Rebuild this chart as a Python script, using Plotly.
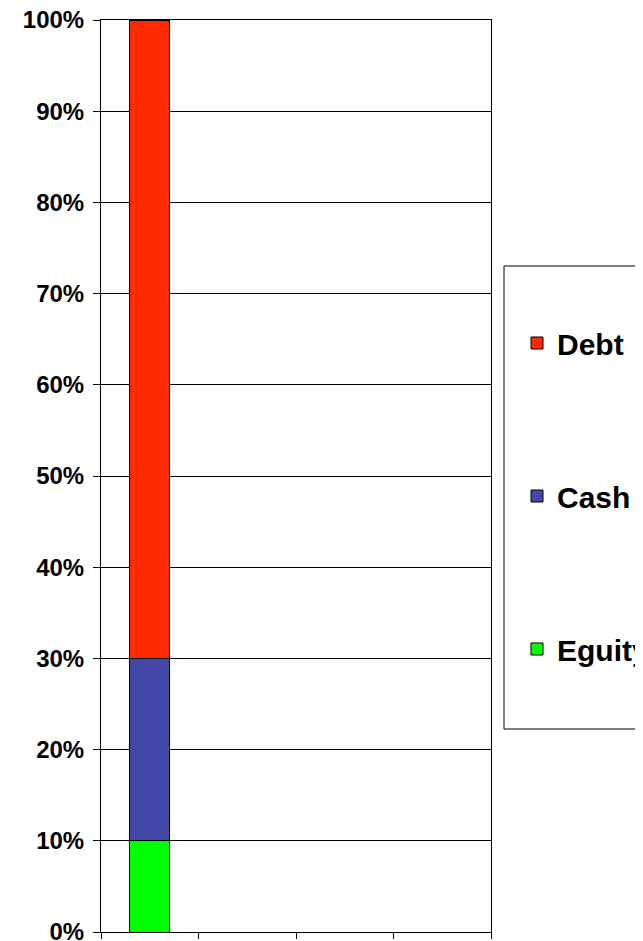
import plotly.graph_objects as go

categories = ["1", "2", "3", "4"]
equity = [10, None, None, None]
cash = [20, None, None, None]
debt = [70, None, None, None]
y_ticks = [0, 10, 20, 30, 40, 50, 60, 70, 80, 90, 100]
y_tick_labels = [f"{v}%" for v in y_ticks]

# page offset from default body margin
OFF = 8
W, H = 643 - OFF, 941 - OFF
L, R, T, B = 101 - OFF, 491 - OFF, 20 - OFF, 932 - OFF

def px_x(p):
    return (p - OFF - L) / (R - L)

def px_y(p):
    return (B - (p - OFF)) / (B - T)

fig = go.Figure()
series = [("Eguity", equity, "#00FF00", 3), ("Cash", cash, "#4348A8", 2), ("Debt", debt, "#FF2A00", 1)]
for name, vals, col, rank in series:
    fig.add_trace(go.Bar(
        x=categories, y=vals, name=name, legendgroup=name, legendrank=rank,
        marker=dict(color=col, line=dict(color="black", width=1)),
        width=0.41,
    ))

fig.add_shape(type="rect", xref="paper", yref="paper",
              x0=px_x(504), x1=px_x(660), y0=px_y(729), y1=px_y(266),
              line=dict(color="black", width=1), fillcolor="white", layer="below")

bold = dict(family="Liberation Sans, Arial, sans-serif", size=24, color="black", weight="bold")

fig.update_layout(
    width=W, height=H,
    margin=dict(l=L, r=W - R, t=T, b=H - B, autoexpand=False),
    barmode="stack",
    paper_bgcolor="white", plot_bgcolor="white",
    showlegend=True,
    legend=dict(
        x=px_x(517), xanchor="left",
        y=px_y(317), yanchor="top",
        traceorder="grouped",
        tracegroupgap=111,
        font=dict(family="Liberation Sans, Arial, sans-serif", size=30, color="black", weight="bold"),
        bgcolor="rgba(0,0,0,0)", borderwidth=0,
    ),
    xaxis=dict(
        type="category", categoryorder="array", categoryarray=categories,
        showticklabels=False, ticks="outside", tickson="boundaries", ticklen=6,
        tickcolor="black", showline=True, linecolor="black", linewidth=1,
        mirror=True, showgrid=False, range=[-0.5, 3.5],
    ),
    yaxis=dict(
        range=[0, 100], tickmode="array", tickvals=y_ticks, ticktext=y_tick_labels,
        ticks="outside", ticklen=7, tickcolor="black", ticklabeloverflow="allow",
        ticklabelstandoff=4,
        showline=True, linecolor="black", linewidth=1, mirror=True,
        showgrid=True, gridcolor="black", gridwidth=1,
        tickfont=bold, zeroline=False,
    ),
)

fig.write_html("out.html")
